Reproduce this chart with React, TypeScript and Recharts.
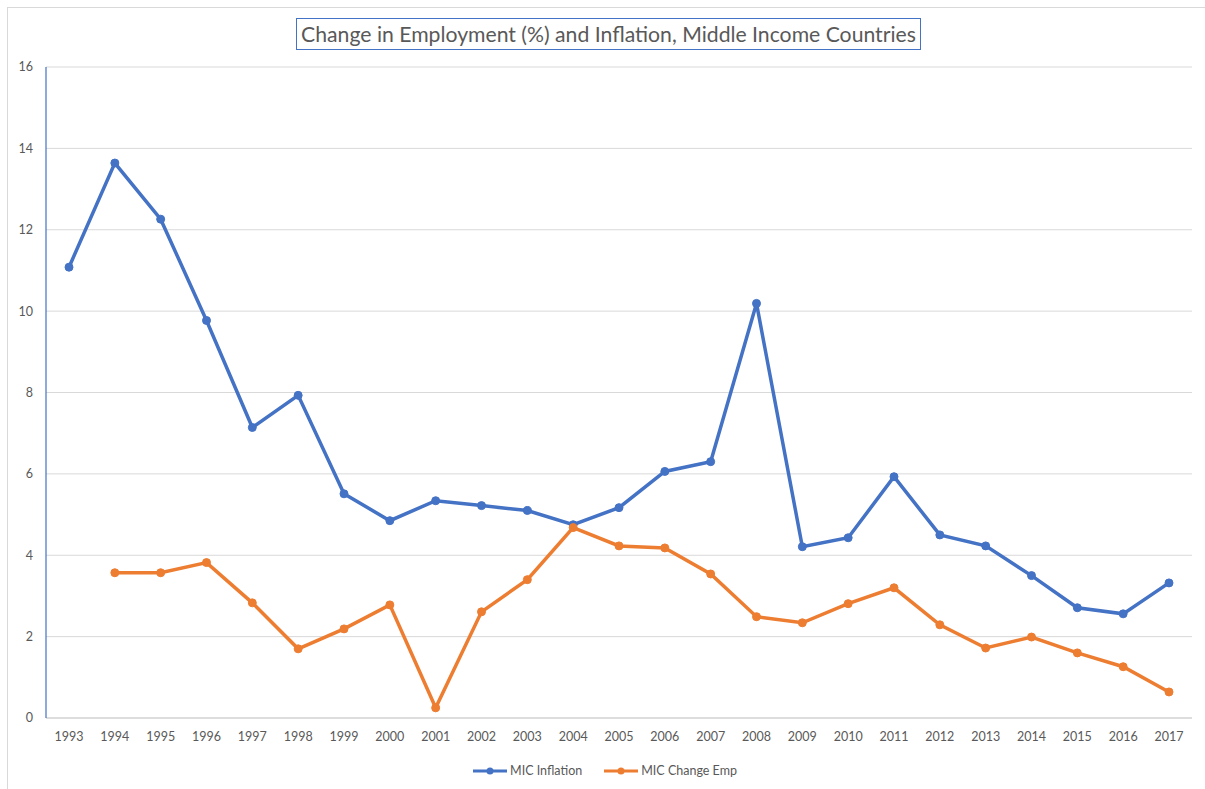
import { LineChart, Line, XAxis, YAxis, CartesianGrid, Legend } from 'recharts';

const years = [
  '1993', '1994', '1995', '1996', '1997', '1998', '1999', '2000', '2001', '2002', '2003', '2004', '2005',
  '2006', '2007', '2008', '2009', '2010', '2011', '2012', '2013', '2014', '2015', '2016', '2017',
];

const inflation = [
  11.08, 13.64, 12.26, 9.77, 7.14, 7.93, 5.51, 4.85, 5.34, 5.22, 5.1, 4.75, 5.17,
  6.06, 6.3, 10.19, 4.21, 4.43, 5.93, 4.5, 4.23, 3.5, 2.71, 2.56, 3.32,
];

const changeEmp = [
  null, 3.57, 3.57, 3.82, 2.83, 1.7, 2.19, 2.78, 0.25, 2.61, 3.4, 4.68, 4.23,
  4.18, 3.54, 2.49, 2.34, 2.81, 3.2, 2.29, 1.72, 1.99, 1.6, 1.26, 0.64,
];

const yTicks = [0, 2, 4, 6, 8, 10, 12, 14, 16];

const data = years.map((year, i) => ({
  year,
  inflation: inflation[i],
  emp: changeEmp[i],
}));

const FONT = 'Lato, "Open Sans", sans-serif';
const BLUE = '#4472C4';
const ORANGE = '#ED7D31';
const TEXT = '#595959';
const GRID = '#d9d9d9';

const legendItems = [
  { name: 'MIC Inflation', color: BLUE },
  { name: 'MIC Change Emp', color: ORANGE },
];

function LegendContent() {
  return (
    <div style={{ display: 'flex', justifyContent: 'center', gap: 22, fontSize: 12.5, color: TEXT, fontFamily: FONT, paddingLeft: 12 }}>
      {legendItems.map((item) => (
        <div key={item.name} style={{ display: 'flex', alignItems: 'center', gap: 3 }}>
          <svg width={34} height={10}>
            <line x1={0} y1={5} x2={34} y2={5} stroke={item.color} strokeWidth={3} />
            <circle cx={17} cy={5} r={3.5} fill={item.color} />
          </svg>
          <span>{item.name}</span>
        </div>
      ))}
    </div>
  );
}

export default function App() {
  return (
    <div style={{ position: 'absolute', left: 0, top: 0, width: 1205, height: 789, background: '#fff', fontFamily: FONT }}>
      <div style={{ position: 'absolute', left: 7, top: 7, right: 0, bottom: 0, borderLeft: `1px solid ${GRID}`, borderTop: `1px solid ${GRID}` }} />
      <div
        style={{
          position: 'absolute',
          left: 12,
          right: 0,
          top: 18,
          display: 'flex',
          justifyContent: 'center',
        }}
      >
        <div
          style={{
            border: `1px solid ${BLUE}`,
            padding: '2px 4px',
            fontSize: 21.2,
            color: TEXT,
            lineHeight: '26px',
            whiteSpace: 'nowrap',
          }}
        >
          Change in Employment (%) and Inflation, Middle Income Countries
        </div>
      </div>
      <LineChart
        width={1205}
        height={789}
        data={data}
        margin={{ top: 67, right: 13, bottom: 26, left: 6 }}
        style={{ position: 'absolute', left: 0, top: 0 }}
      >
        <CartesianGrid vertical={false} stroke={GRID} strokeWidth={1} />
        <XAxis
          dataKey="year"
          tick={{ fontSize: 12.5, fill: TEXT, fontFamily: FONT }}
          tickLine={false}
          axisLine={{ stroke: GRID, strokeWidth: 1.5 }}
          height={30}
          tickMargin={8}
          interval={0}
          padding={{ left: 23, right: 23 }}
        />
        <XAxis xAxisId="top" dataKey="year" orientation="top" height={0} tick={false} tickLine={false} axisLine={{ stroke: BLUE, strokeWidth: 1.2 }} />
        <YAxis
          domain={[0, 16]}
          ticks={yTicks}
          interval={0}
          tick={{ fontSize: 12.5, fill: TEXT, fontFamily: FONT }}
          tickLine={false}
          axisLine={{ stroke: BLUE, strokeWidth: 1.2 }}
          width={40}
          tickMargin={7}
        />
        <YAxis yAxisId="right" orientation="right" domain={[0, 16]} width={0} tick={false} tickLine={false} axisLine={{ stroke: BLUE, strokeWidth: 1.2 }} />
        <Legend
          verticalAlign="bottom"
          align="center"
          content={<LegendContent />}
          wrapperStyle={{ bottom: 11 }}
        />
        <Line
          name="MIC Inflation"
          dataKey="inflation"
          stroke={BLUE}
          strokeWidth={3.5}
          dot={{ r: 4, fill: BLUE, stroke: BLUE, strokeWidth: 1 }}
          activeDot={false}
          isAnimationActive={false}
        />
        <Line
          name="MIC Change Emp"
          dataKey="emp"
          stroke={ORANGE}
          strokeWidth={3.5}
          dot={{ r: 4, fill: ORANGE, stroke: ORANGE, strokeWidth: 1 }}
          activeDot={false}
          isAnimationActive={false}
        />
      </LineChart>
    </div>
  );
}
